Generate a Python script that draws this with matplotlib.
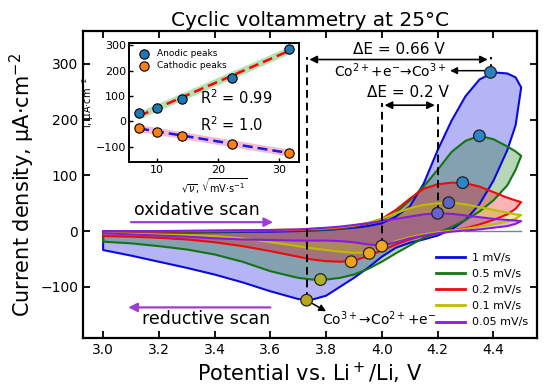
import numpy as np
import matplotlib
matplotlib.use("Agg")
import matplotlib.pyplot as plt

# ---------------- data ----------------
rates = [1, 0.5, 0.2, 0.1, 0.05]            # mV/s
rate_labels = ["1 mV/s", "0.5 mV/s", "0.2 mV/s", "0.1 mV/s", "0.05 mV/s"]

E_up = [3.0, 3.2, 3.4, 3.6, 3.7, 3.8, 3.85, 3.9, 3.95, 4.0, 4.05, 4.1, 4.15,
        4.2, 4.25, 4.3, 4.35, 4.4, 4.45, 4.48, 4.5]
E_down = [4.5, 4.48, 4.45, 4.4, 4.35, 4.3, 4.25, 4.2, 4.15, 4.1, 4.05, 4.0,
          3.95, 3.9, 3.85, 3.8, 3.75, 3.7, 3.6, 3.5, 3.4, 3.3, 3.2, 3.1, 3.0]

i_up_1 = [-3, -3, -2, -1, 0, 2, 4, 6, 9, 14, 26, 44, 85, 145, 198, 242, 272, 285, 283, 276, 258]
i_down_1 = [258, 190, 145, 90, 48, 20, 3, -8, -15, -21, -30, -46, -66, -84, -100, -116,
            -123, -122, -108, -92, -78, -66, -55, -44, -34]

i_up_05 = [-2, -2, -1, 0, 1, 3, 5, 8, 13, 20, 33, 55, 80, 110, 142, 162, 171, 165, 152, 143, 135]
i_down_05 = [135, 110, 82, 55, 35, 20, 7, -3, -12, -26, -40, -55, -68, -78, -84, -87,
             -87, -84, -72, -55, -42, -33, -27, -22, -19]

i_up_02 = [-1, -1, 0, 1, 2, 4, 6, 9, 14, 22, 38, 58, 76, 84, 87, 86, 80, 70, 60, 55, 52]
i_down_02 = [52, 40, 30, 20, 12, 5, 1, -3, -8, -15, -24, -35, -45, -53, -55, -54,
             -51, -46, -36, -27, -20, -15, -12, -10, -9]

i_up_01 = [0, 0, 1, 2, 3, 5, 7, 10, 15, 22, 32, 41, 47, 50, 51, 48, 43, 38, 33, 30, 29]
i_down_01 = [29, 22, 17, 12, 8, 4, 1, -2, -6, -11, -18, -30, -39, -39, -37, -34,
             -31, -27, -20, -13, -9, -7, -6, -5, -4]

i_up_005 = [0, 0, 1, 2, 3, 6, 8, 11, 14, 18, 22, 26, 30, 32, 31, 28, 25, 22, 20, 19, 18]
i_down_005 = [18, 13, 9, 6, 3, 1, -1, -4, -8, -13, -20, -26, -24, -20, -18, -17,
              -17, -17, -16, -15, -13, -10, -8, -6, -4]

i_up_all = [i_up_1, i_up_05, i_up_02, i_up_01, i_up_005]
i_down_all = [i_down_1, i_down_05, i_down_02, i_down_01, i_down_005]

anodic_E = [4.39, 4.35, 4.29, 4.24, 4.20]
anodic_i = [285, 171, 87, 51, 32]
cathodic_E = [3.73, 3.78, 3.89, 3.955, 4.0]
cathodic_i = [-124, -87, -55, -40, -27]

zero_line_E = [4.3, 4.5]

# ---------------- style ----------------
colors = ["#0a0ae0", "#127512", "#ee0a0a", "#bdbd00", "#8a1ae0"]
an_fc = ["#2a7fc4", "#2a86c8", "#2e86c8", "#5d64c8", "#6a62cc"]
ca_fc = ["#b8a41e", "#a9b22a", "#f0a21c", "#f3a51e", "#f5a51e"]
scan_col = "#9b3fd0"

fig = plt.figure(figsize=(5.5, 3.89), dpi=100)
ax = fig.add_axes([0.151, 0.131, 0.825, 0.789])

for k in range(len(rates)):
    Ex = list(E_up) + list(E_down)
    Iy = list(i_up_all[k]) + list(i_down_all[k])
    ax.fill(Ex, Iy, color=colors[k], alpha=0.3, lw=0, zorder=1)
for k in range(len(rates)):
    Ex = list(E_up) + list(E_down) + [E_up[0]]
    Iy = list(i_up_all[k]) + list(i_down_all[k]) + [i_up_all[k][0]]
    ax.plot(Ex, Iy, color=colors[k], lw=1.5, zorder=2, label=rate_labels[k])

ax.plot(zero_line_E, [0, 0], color="gray", lw=1, zorder=1.5)

ax.scatter(anodic_E, anodic_i, s=70, c=an_fc, edgecolors="#222222", linewidths=0.9, zorder=5)
ax.scatter(cathodic_E, cathodic_i, s=70, c=ca_fc, edgecolors="#222222", linewidths=0.9, zorder=5)

# dashed guides
y_top1 = 312
ax.plot([cathodic_E[0], cathodic_E[0]], [cathodic_i[0], y_top1], ls=(0, (4, 2.5)), color="black", lw=1.4, zorder=4)
ax.plot([anodic_E[0], anodic_E[0]], [anodic_i[0], y_top1], ls=(0, (4, 2.5)), color="black", lw=1.4, zorder=4)
y_top2 = 230
ax.plot([cathodic_E[4], cathodic_E[4]], [cathodic_i[4], y_top2], ls=(0, (4, 2.5)), color="black", lw=1.4, zorder=4)
ax.plot([anodic_E[4], anodic_E[4]], [anodic_i[4], y_top2], ls=(0, (4, 2.5)), color="black", lw=1.4, zorder=4)

ap = dict(arrowstyle="<|-|>", color="black", lw=1.2, mutation_scale=11, shrinkA=0, shrinkB=0)
ax.annotate("", xy=(cathodic_E[0] + 0.01, 308), xytext=(anodic_E[0] - 0.01, 308), arrowprops=ap, zorder=6)
ax.annotate("", xy=(cathodic_E[4] + 0.01, 226), xytext=(anodic_E[4] - 0.01, 226), arrowprops=ap, zorder=6)

ax.text(4.06, 326, "ΔE = 0.66 V", ha="center", va="center", fontsize=11)
ax.text(4.095, 249, "ΔE = 0.2 V", ha="center", va="center", fontsize=11)
ax.text(4.03, 288, r"Co$^{2+}$+e$^{-}$→Co$^{3+}$", ha="center", va="center", fontsize=10)
ax.annotate("", xy=(4.245, 288), xytext=(anodic_E[0] - 0.02, 288),
            arrowprops=dict(arrowstyle="-|>", color="black", lw=1.1, mutation_scale=10, shrinkA=0, shrinkB=0))
ax.text(3.99, -158, r"Co$^{3+}$→Co$^{2+}$+e$^{-}$", ha="center", va="center", fontsize=10)
ax.annotate("", xy=(3.80, -144), xytext=(cathodic_E[0] + 0.01, -127),
            arrowprops=dict(arrowstyle="-|>", color="black", lw=1.1, mutation_scale=10, shrinkA=0, shrinkB=0))

# scan direction
ax.text(3.335, 38, "oxidative scan", ha="center", va="center", fontsize=12.5)
ax.annotate("", xy=(3.61, 16), xytext=(3.1, 16),
            arrowprops=dict(arrowstyle="-|>", color=scan_col, lw=1.6, mutation_scale=13, shrinkA=0, shrinkB=0))
ax.text(3.37, -157, "reductive scan", ha="center", va="center", fontsize=12.5)
ax.annotate("", xy=(3.09, -137), xytext=(3.6, -137),
            arrowprops=dict(arrowstyle="-|>", color=scan_col, lw=1.6, mutation_scale=13, shrinkA=0, shrinkB=0))

ax.set_xlim(2.928, 4.556)
ax.set_ylim(-192, 359)
ax.set_xticks([3.0, 3.2, 3.4, 3.6, 3.8, 4.0, 4.2, 4.4])
ax.set_yticks([-100, 0, 100, 200, 300])
ax.tick_params(direction="in", top=True, right=True, length=5, width=1.3, labelsize=10)
for s in ax.spines.values():
    s.set_linewidth(1.6)
ax.set_xlabel(r"Potential vs. Li$^+$/Li, V", fontsize=15, labelpad=3)
ax.set_ylabel(r"Current density, µA·cm$^{-2}$", fontsize=15, labelpad=2)
ax.set_title("Cyclic voltammetry at 25°C", fontsize=14.5, pad=4)

leg = ax.legend(loc="lower right", bbox_to_anchor=(0.99, 0.02), frameon=False, fontsize=8,
                handlelength=2.6, labelspacing=0.55, borderaxespad=0, handletextpad=0.6)
for h in leg.get_lines():
    h.set_linewidth(2)

# ---------------- inset ----------------
sqrt_v = np.sqrt(np.array(rates) * 1000)
ins = fig.add_axes([0.2345, 0.5835, 0.309, 0.306])
xf = np.array([sqrt_v.min(), sqrt_v.max()])
pa = np.polyfit(sqrt_v, anodic_i, 1)
pc = np.polyfit(sqrt_v, cathodic_i, 1)
ins.plot(xf, np.polyval(pa, xf), color="#7fd07f", lw=5, alpha=0.6, solid_capstyle="butt", zorder=1)
ins.plot(xf, np.polyval(pa, xf), color="red", lw=1.8, ls=(0, (4, 2)), zorder=2)
ins.plot(xf, np.polyval(pc, xf), color="#f4a0c0", lw=5, alpha=0.7, solid_capstyle="butt", zorder=1)
ins.plot(xf, np.polyval(pc, xf), color="#1a1ae0", lw=1.8, ls=(0, (4, 2)), zorder=2)
ins.scatter(sqrt_v, anodic_i, s=45, color="#1f77b4", edgecolors="black", linewidths=0.8, zorder=3, label="Anodic peaks")
ins.scatter(sqrt_v, cathodic_i, s=45, color="#ff7f0e", edgecolors="black", linewidths=0.8, zorder=3, label="Cathodic peaks")
ins.text(17.0, 92, r"R$^2$ = 0.99", fontsize=10.5, va="center")
ins.text(17.0, -14, r"R$^2$ = 1.0", fontsize=10.5, va="center")
ins.set_xlim(5.4, 33.3)
ins.set_ylim(-159, 308)
ins.set_xticks([10, 20, 30])
ins.set_yticks([-100, 0, 100, 200, 300])
ins.tick_params(direction="in", length=3, width=1, labelsize=8, pad=2)
for s in ins.spines.values():
    s.set_linewidth(1.4)
ins.set_ylabel(r"i, µA·cm$^{-2}$", fontsize=7, labelpad=0)
ins.set_xlabel(r"$\sqrt{\nu}$, $\sqrt{\mathrm{mV{\cdot}s^{-1}}}$", fontsize=7, labelpad=1)
ins.legend(loc="upper left", frameon=False, fontsize=6.5, handletextpad=0.4, borderaxespad=0.3,
           labelspacing=0.3)

fig.savefig("out.png", dpi=100)
